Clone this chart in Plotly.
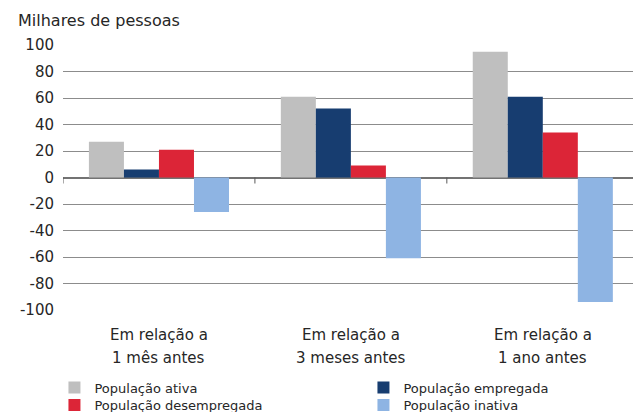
import plotly.graph_objects as go

cat_line1 = ["Em relação a", "Em relação a", "Em relação a"]
cat_line2 = ["1 mês antes", "3 meses antes", "1 ano antes"]
categories = [0, 1, 2]

series_names = ["População ativa", "População empregada",
                "População desempregada", "População inativa"]
ativa = [27, 61, 95]
empregada = [6, 52, 61]
desempregada = [21, 9, 34]
inativa = [-26, -61, -94]
colors = ["#BFBFBF", "#173D70", "#DC2537", "#8EB4E3"]
legend_rows = ["legend", "legend", "legend2", "legend2"]

y_ticks = [100, 80, 60, 40, 20, 0, -20, -40, -60, -80, -100]
y_tick_labels = ["100", "80", "60", "40", "20", "0", "-20", "-40", "-60", "-80", "-100"]

FONT = "DejaVu Sans"
TXT = "#262626"

fig = go.Figure()
for name, vals, col, lg in zip(series_names, [ativa, empregada, desempregada, inativa],
                               colors, legend_rows):
    fig.add_trace(go.Bar(x=categories, y=vals, name=name, marker_color=col,
                         marker_line_width=0, legend=lg))

shapes = []
for i in range(len(categories) + 1):
    shapes.append(dict(type="line", xref="x", yref="y", x0=i - 0.5, x1=i - 0.5,
                       ysizemode="pixel", yanchor=0, y0=0, y1=-6,
                       line=dict(color="#595959", width=1)))

annotations = [dict(text="Milhares de pessoas", xref="paper", yref="paper",
                    x=-0.083, y=1.094, xanchor="left", yanchor="middle",
                    showarrow=False, font=dict(family=FONT, size=16, color=TXT))]
for c, l1, l2 in zip(categories, cat_line1, cat_line2):
    annotations.append(dict(text=l1, xref="x", yref="paper", x=c, y=-0.094,
                            xanchor="center", yanchor="middle", showarrow=False,
                            font=dict(family=FONT, size=15, color=TXT)))
    annotations.append(dict(text=l2, xref="x", yref="paper", x=c, y=-0.18,
                            xanchor="center", yanchor="middle", showarrow=False,
                            font=dict(family=FONT, size=15, color=TXT)))

legend_common = dict(orientation="h", x=-0.015, xanchor="left", yanchor="top",
                     entrywidth=264, entrywidthmode="pixels",
                     font=dict(family=FONT, size=13, color=TXT),
                     traceorder="normal", itemclick=False, itemdoubleclick=False,
                     tracegroupgap=0, bgcolor="rgba(0,0,0,0)")

fig.update_layout(
    width=633, height=412,
    margin=dict(l=63, r=0, t=45, b=102, autoexpand=False),
    paper_bgcolor="white", plot_bgcolor="white",
    barmode="group", bargap=0.27, bargroupgap=0,
    font=dict(family=FONT, size=15, color=TXT),
    xaxis=dict(range=[-0.5, 2.47], showticklabels=False, showgrid=False,
               zeroline=False, showline=False, ticks=""),
    yaxis=dict(range=[-100, 100], tickvals=y_ticks, ticktext=y_tick_labels,
               showgrid=True,
               gridcolor="#8C8C8C", gridwidth=1, zeroline=True,
               zerolinecolor="#737373", zerolinewidth=1.5, showline=False,
               ticks="", ticklabelstandoff=8,
               tickfont=dict(family=FONT, size=15, color=TXT)),
    legend=dict(legend_common, y=-0.236),
    legend2=dict(legend_common, y=-0.302),
    shapes=shapes,
    annotations=annotations,
    showlegend=True,
)

fig.write_html("out.html", config={"displayModeBar": False},
               post_script="document.body.style.margin='0';")
